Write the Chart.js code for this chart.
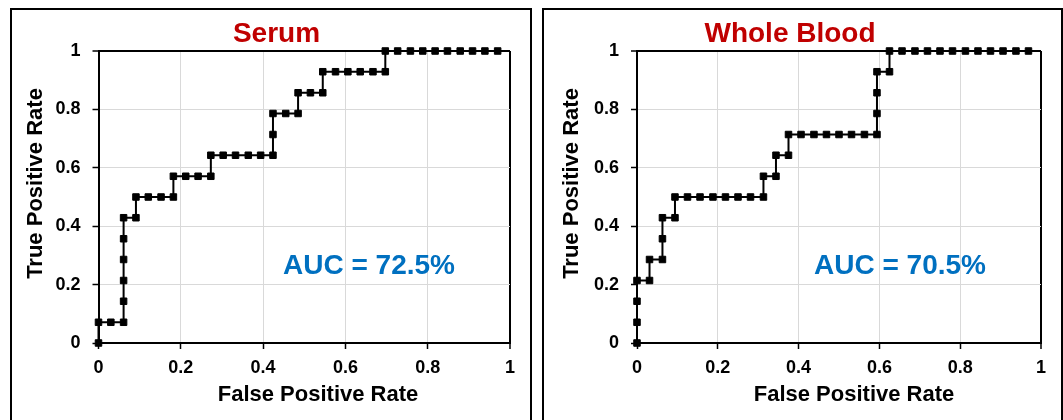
<!DOCTYPE html>
<html>
<head>
<meta charset="utf-8">
<script src="https://cdn.jsdelivr.net/npm/chart.js@4.4.1/dist/chart.umd.min.js"></script>
<style>
  html, body { margin: 0; padding: 0; background: #ffffff; width: 1063px; height: 420px; overflow: hidden; }
  .panel { position: absolute; top: 8px; height: 500px; border: 2px solid #000; box-sizing: border-box; }
  .wrap { position: absolute; top: 0; height: 420px; }
  canvas { display: block; }
</style>
</head>
<body>
<div class="panel" style="left:10px;width:522px;"></div>
<div class="panel" style="left:542px;width:521px;"></div>
<div class="wrap" style="left:0px;width:532px;"><canvas id="c1" width="532" height="420"></canvas></div>
<div class="wrap" style="left:532px;width:531px;"><canvas id="c2" width="531" height="420"></canvas></div>
<script>
// ---- data ----
const xTickLabels = ["0", "0.2", "0.4", "0.6", "0.8", "1"];
const yTickLabels = ["0", "0.2", "0.4", "0.6", "0.8", "1"];

const serumFPR = [0, 0, 0.030, 0.061, 0.061, 0.061, 0.061, 0.061, 0.061, 0.091, 0.091, 0.121, 0.152, 0.182, 0.182, 0.212,
  0.242, 0.273, 0.273, 0.303, 0.333, 0.364, 0.394, 0.424, 0.424, 0.424, 0.455, 0.485, 0.485, 0.515, 0.545, 0.545,
  0.576, 0.606, 0.636, 0.667, 0.697, 0.697, 0.727, 0.758, 0.788, 0.818, 0.848, 0.879, 0.909, 0.939, 0.970];
const serumTPR = [0, 0.071, 0.071, 0.071, 0.143, 0.214, 0.286, 0.357, 0.429, 0.429, 0.5, 0.5, 0.5, 0.5, 0.571, 0.571,
  0.571, 0.571, 0.643, 0.643, 0.643, 0.643, 0.643, 0.643, 0.714, 0.786, 0.786, 0.786, 0.857, 0.857, 0.857, 0.929,
  0.929, 0.929, 0.929, 0.929, 0.929, 1, 1, 1, 1, 1, 1, 1, 1, 1, 1];

const bloodFPR = [0, 0, 0, 0, 0.031, 0.031, 0.063, 0.063, 0.063, 0.094, 0.094, 0.125, 0.156, 0.188, 0.219, 0.25,
  0.281, 0.313, 0.313, 0.344, 0.344, 0.375, 0.375, 0.406, 0.438, 0.469, 0.5, 0.531, 0.563, 0.594, 0.594, 0.594,
  0.594, 0.625, 0.625, 0.656, 0.688, 0.719, 0.75, 0.781, 0.813, 0.844, 0.875, 0.906, 0.938, 0.969];
const bloodTPR = [0, 0.071, 0.143, 0.214, 0.214, 0.286, 0.286, 0.357, 0.429, 0.429, 0.5, 0.5, 0.5, 0.5, 0.5, 0.5,
  0.5, 0.5, 0.571, 0.571, 0.643, 0.643, 0.714, 0.714, 0.714, 0.714, 0.714, 0.714, 0.714, 0.714, 0.786, 0.857,
  0.929, 0.929, 1, 1, 1, 1, 1, 1, 1, 1, 1, 1, 1, 1];

const titles = ["Serum", "Whole Blood"];
const aucLabels = ["AUC = 72.5%", "AUC = 70.5%"];
const xTitle = "False Positive Rate";
const yTitle = "True Positive Rate";

// ---- rendering ----
const FONT = "'Liberation Sans', Arial, Helvetica, sans-serif";

const textPlugin = {
  id: 'panelText',
  afterDraw(chart, args, opts) {
    const ctx = chart.ctx;
    ctx.save();
    ctx.textBaseline = 'alphabetic';
    ctx.textAlign = 'center';
    // title
    ctx.fillStyle = '#C00000';
    ctx.font = 'bold 28px ' + FONT;
    ctx.fillText(opts.title, opts.titleX, 41.5);
    // AUC
    ctx.fillStyle = '#0070C0';
    ctx.font = 'bold 28px ' + FONT;
    ctx.fillText(opts.auc, opts.aucX, 274);
    // axis titles
    ctx.fillStyle = '#000000';
    ctx.font = 'bold 22px ' + FONT;
    ctx.fillText(xTitle, opts.xTitleX, 400.5);
    ctx.translate(opts.yTitleX, 183.5);
    ctx.rotate(-Math.PI / 2);
    ctx.fillText(yTitle, 0, 0);
    ctx.restore();
  }
};

function makeChart(id, fpr, tpr, padLeft, textOpts) {
  const pts = fpr.map((x, i) => ({ x: x, y: tpr[i] }));
  const lastIdx = xTickLabels.length - 1;
  const gridColor = (c) => (c.index === lastIdx ? '#000000' : '#d9d9d9');
  const gridWidth = (c) => (c.index === lastIdx ? 2 : 1);
  return new Chart(document.getElementById(id), {
    type: 'scatter',
    data: {
      datasets: [{
        data: pts,
        showLine: true,
        borderColor: '#000000',
        backgroundColor: '#000000',
        borderWidth: 2,
        pointStyle: 'rect',
        pointRadius: 4.6,
        pointHoverRadius: 4.6,
        pointBorderWidth: 1,
        pointBorderColor: '#000000',
        pointBackgroundColor: '#000000',
        tension: 0,
        clip: false
      }]
    },
    options: {
      responsive: false,
      animation: false,
      events: [],
      layout: { padding: { left: padLeft, right: 22, top: 51, bottom: 37 } },
      plugins: {
        legend: { display: false },
        tooltip: { enabled: false },
        title: { display: false },
        panelText: textOpts
      },
      scales: {
        x: {
          type: 'linear',
          min: 0, max: 1,
          afterFit: (s) => { s.height = 40; },
          ticks: {
            stepSize: 0.2,
            padding: 8,
            color: '#000000',
            font: { family: FONT, size: 18, weight: 'bold' },
            callback: (v, i) => xTickLabels[i]
          },
          grid: { color: gridColor, lineWidth: gridWidth, tickColor: '#000000', tickLength: 6, tickWidth: 1.5 },
          border: { color: '#000000', width: 2 }
        },
        y: {
          type: 'linear',
          min: 0, max: 1,
          afterFit: (s) => { s.width = 60; },
          ticks: {
            stepSize: 0.2,
            padding: 12,
            color: '#000000',
            font: { family: FONT, size: 18, weight: 'bold' },
            callback: (v, i) => yTickLabels[i]
          },
          grid: { color: gridColor, lineWidth: gridWidth, tickColor: '#000000', tickLength: 6, tickWidth: 1.5 },
          border: { color: '#000000', width: 2 }
        }
      }
    },
    plugins: [textPlugin]
  });
}

makeChart('c1', serumFPR, serumTPR, 38.5,
  { title: titles[0], auc: aucLabels[0], titleX: 276.5, aucX: 369, xTitleX: 318, yTitleX: 41.5 });
makeChart('c2', bloodFPR, bloodTPR, 45,
  { title: titles[1], auc: aucLabels[1], titleX: 258, aucX: 368, xTitleX: 322, yTitleX: 46 });
</script>
</body>
</html>
